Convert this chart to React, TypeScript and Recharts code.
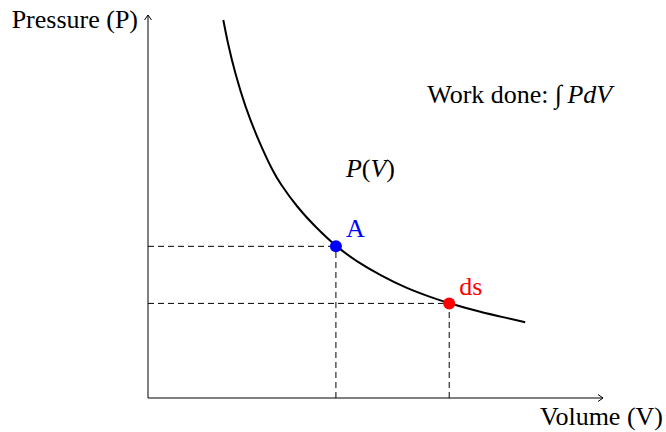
import { LineChart, Line, XAxis, YAxis, ReferenceLine, ReferenceDot } from "recharts";

// curve P(V)
const volume = [1.655, 1.765, 1.91, 2.13, 2.42, 2.75, 2.9, 3.27, 3.71, 4.13, 4.59, 5.1, 5.69, 6.2, 6.62, 7.3, 7.88, 8.29];
const pressure = [9.87, 9.2, 8.5, 7.62, 6.74, 5.9, 5.61, 4.99, 4.43, 3.96, 3.56, 3.21, 2.86, 2.64, 2.47, 2.25, 2.09, 1.98];

const pointA = { v: 4.13, p: 3.96 };
const pointDs = { v: 6.62, p: 2.47 };

const curve = volume.map((v, i) => ({ v, p: pressure[i] }));

const FONT = "'Liberation Serif', 'DejaVu Serif', serif";

const upArrow = (props: any) => (
  <path
    d={`M${props.cx - 3.5},${props.cy + 5} L${props.cx},${props.cy} L${props.cx + 3.5},${props.cy + 5}`}
    stroke="#000"
    fill="none"
    strokeWidth={1}
  />
);

const rightArrow = (props: any) => (
  <path
    d={`M${props.cx - 5},${props.cy - 3.5} L${props.cx},${props.cy} L${props.cx - 5},${props.cy + 3.5}`}
    stroke="#000"
    fill="none"
    strokeWidth={1}
  />
);

const note =
  (content: any, dx: number, dy: number, anchor = "start", fill = "#000") =>
  (props: any) => (
    <text
      x={props.cx + dx}
      y={props.cy + dy}
      textAnchor={anchor}
      fill={fill}
      fontFamily={FONT}
      fontSize={26}
    >
      {content}
    </text>
  );

export default function App() {
  return (
    <div style={{ position: "absolute", left: 0, top: 0, background: "#fff" }}>
      <LineChart
        width={666}
        height={432}
        data={curve}
        margin={{ top: 15, right: 63, bottom: 34, left: 148 }}
      >
        <XAxis dataKey="v" type="number" domain={[0, 10]} hide />
        <YAxis type="number" domain={[0, 10]} hide />

        {/* axes */}
        <ReferenceLine segment={[{ x: 0, y: 0 }, { x: 10, y: 0 }]} stroke="#000" ifOverflow="visible" />
        <ReferenceLine segment={[{ x: 0, y: 0 }, { x: 0, y: 10 }]} stroke="#000" ifOverflow="visible" />

        <ReferenceLine
          segment={[{ x: 0, y: pointA.p }, { x: pointA.v, y: pointA.p }]}
          stroke="#000"
          strokeDasharray="6 4"
        />
        <ReferenceLine
          segment={[{ x: pointA.v, y: 0 }, { x: pointA.v, y: pointA.p }]}
          stroke="#000"
          strokeDasharray="6 4"
        />
        <ReferenceLine
          segment={[{ x: 0, y: pointDs.p }, { x: pointDs.v, y: pointDs.p }]}
          stroke="#000"
          strokeDasharray="6 4"
        />
        <ReferenceLine
          segment={[{ x: pointDs.v, y: 0 }, { x: pointDs.v, y: pointDs.p }]}
          stroke="#000"
          strokeDasharray="6 4"
        />

        <Line
          dataKey="p"
          type="basis"
          stroke="#000"
          strokeWidth={2}
          dot={false}
          isAnimationActive={false}
        />

        <ReferenceDot x={pointA.v} y={pointA.p} r={6} fill="#0000ff" stroke="none" />
        <ReferenceDot x={pointDs.v} y={pointDs.p} r={6} fill="#ff0000" stroke="none" />

        {/* axis arrows and labels */}
        <ReferenceDot x={0} y={10} ifOverflow="visible" shape={upArrow} />
        <ReferenceDot x={10} y={0} ifOverflow="visible" shape={rightArrow} />
        <ReferenceDot
          x={0}
          y={10}
          ifOverflow="visible"
          shape={note("Pressure (P)", -10, 13, "end")}
        />
        <ReferenceDot
          x={10}
          y={0}
          ifOverflow="visible"
          shape={note("Volume (V)", -63, 27)}
        />

        {/* annotations */}
        <ReferenceDot
          x={pointA.v}
          y={pointA.p}
          ifOverflow="visible"
          shape={note("A", 10, -9, "start", "#0000ff")}
        />
        <ReferenceDot
          x={pointDs.v}
          y={pointDs.p}
          ifOverflow="visible"
          shape={note("ds", 10, -8, "start", "#ff0000")}
        />
        <ReferenceDot
          x={pointA.v}
          y={pointA.p}
          ifOverflow="visible"
          shape={note(
            <>
              <tspan fontStyle="italic">P</tspan>(<tspan fontStyle="italic">V</tspan>)
            </>,
            10,
            -69
          )}
        />
        <ReferenceDot
          x={pointDs.v}
          y={pointDs.p}
          ifOverflow="visible"
          shape={note(
            <>
              Work done:{"\u00a0"}∫{"\u2009"}
              <tspan fontStyle="italic">PdV</tspan>
            </>,
            -22,
            -200
          )}
        />
      </LineChart>
    </div>
  );
}
